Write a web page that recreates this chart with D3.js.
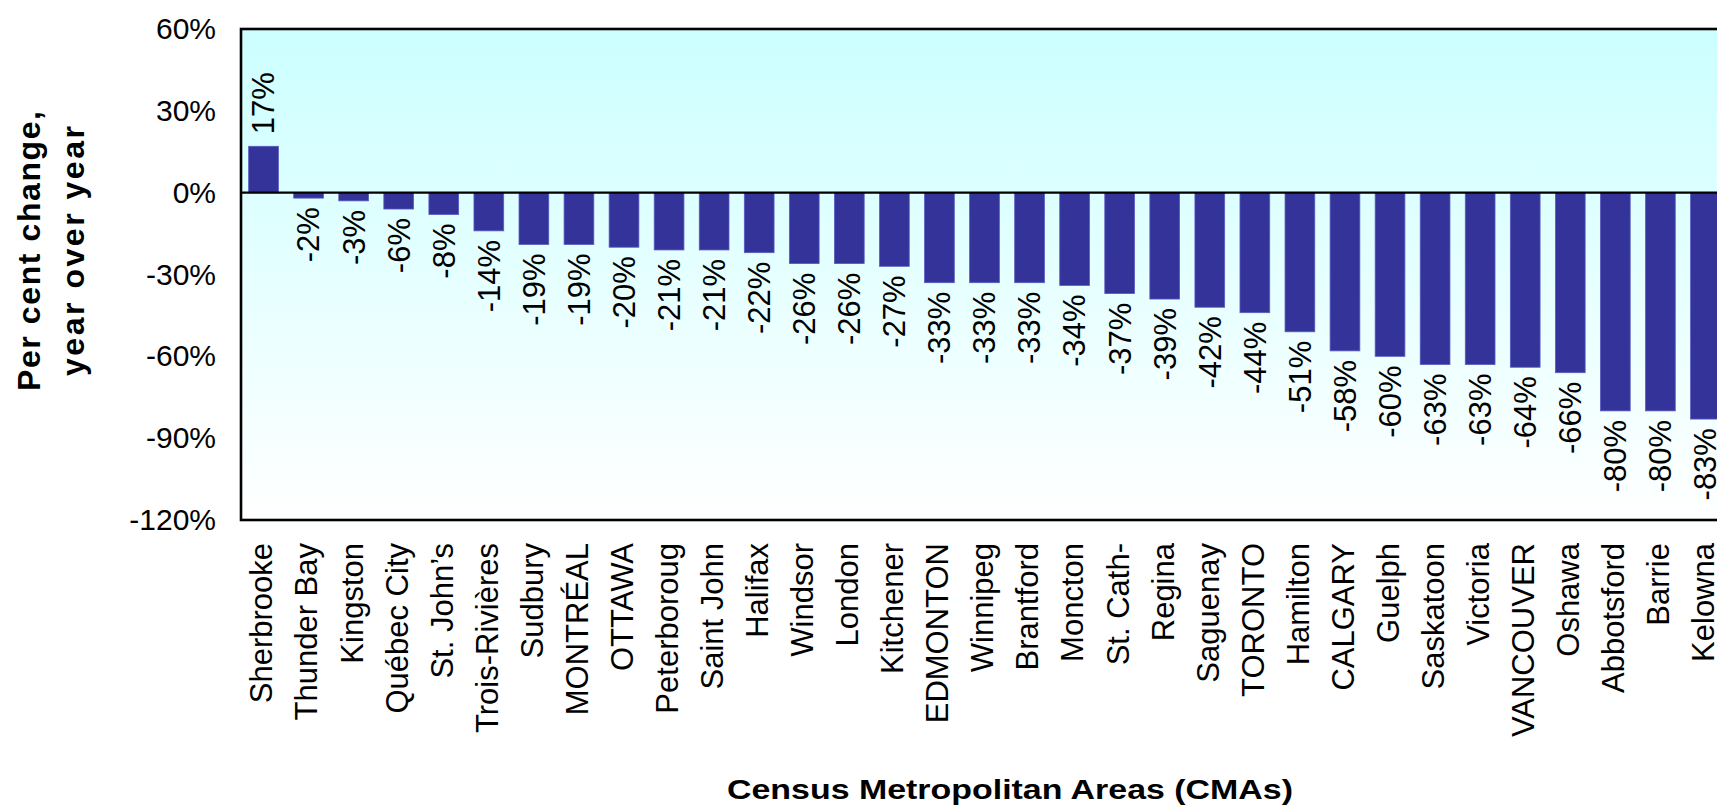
<!DOCTYPE html>
<html>
<head>
<meta charset="utf-8">
<script src="https://cdn.jsdelivr.net/npm/d3@7"></script>
<style>
  html, body { margin: 0; padding: 0; background: #ffffff; }
  svg { display: block; font-family: "Liberation Sans", Arial, sans-serif; }
</style>
</head>
<body>
<svg id="chart" width="1717" height="806"></svg>
<script>
const categories = ["Sherbrooke", "Thunder Bay", "Kingston", "Québec City", "St. John’s", "Trois-Rivières",
  "Sudbury", "MONTRÉAL", "OTTAWA", "Peterboroug", "Saint John", "Halifax", "Windsor", "London",
  "Kitchener", "EDMONTON", "Winnipeg", "Brantford", "Moncton", "St. Cath-", "Regina", "Saguenay",
  "TORONTO", "Hamilton", "CALGARY", "Guelph", "Saskatoon", "Victoria", "VANCOUVER", "Oshawa",
  "Abbotsford", "Barrie", "Kelowna"];
const values = [17, -2, -3, -6, -8, -14, -19, -19, -20, -21, -21, -22, -26, -26, -27, -33, -33, -33,
  -34, -37, -39, -42, -44, -51, -58, -60, -63, -63, -64, -66, -80, -80, -83];
const yTicks = [60, 30, 0, -30, -60, -90, -120];
const yTitleLines = ["Per cent change,", "year over year"];
const xTitle = "Census Metropolitan Areas (CMAs)";

const svg = d3.select("#chart");
const plot = { left: 241, top: 29, bottom: 520, right: 241 + 33 * 45.06 };

const x = d3.scaleBand().domain(categories).range([plot.left, plot.right])
  .paddingInner(0.34).paddingOuter(0.17);
const y = d3.scaleLinear().domain([-120, 60]).range([plot.bottom, plot.top]);

// background gradient
const defs = svg.append("defs");
const grad = defs.append("linearGradient").attr("id", "bg").attr("x1", 0).attr("y1", 0).attr("x2", 0).attr("y2", 1);
grad.append("stop").attr("offset", "0%").attr("stop-color", "#CCFFFF");
grad.append("stop").attr("offset", "100%").attr("stop-color", "#FFFFFF");

svg.append("rect")
  .attr("x", plot.left).attr("y", plot.top)
  .attr("width", plot.right - plot.left).attr("height", plot.bottom - plot.top)
  .attr("fill", "url(#bg)");

// bars
svg.append("g").selectAll("rect").data(values).join("rect")
  .attr("x", (d, i) => x(categories[i]))
  .attr("width", x.bandwidth())
  .attr("y", d => y(Math.max(0, d)))
  .attr("height", d => Math.abs(y(d) - y(0)))
  .attr("fill", "#333399")
  .attr("stroke", "#5a5ac0")
  .attr("stroke-width", 0.8);

// zero line
svg.append("line")
  .attr("x1", plot.left).attr("x2", plot.right)
  .attr("y1", y(0)).attr("y2", y(0))
  .attr("stroke", "#000").attr("stroke-width", 2.4);

// frame
svg.append("rect")
  .attr("x", plot.left).attr("y", plot.top)
  .attr("width", plot.right - plot.left).attr("height", plot.bottom - plot.top)
  .attr("fill", "none").attr("stroke", "#000").attr("stroke-width", 2.6);

// y axis labels
const yAxis = d3.axisLeft(y).tickValues(yTicks).tickFormat(d => d + "%").tickSize(0).tickPadding(25);
const gy = svg.append("g").attr("transform", `translate(${plot.left},0)`).call(yAxis);
gy.select(".domain").remove();
gy.selectAll("text").attr("font-size", 30).attr("fill", "#000")
  .attr("font-family", "'Liberation Sans', Arial, sans-serif");

// value labels
svg.append("g").selectAll("text").data(values).join("text")
  .attr("transform", (d, i) => {
    const cx = x(categories[i]) + x.bandwidth() / 2;
    const cy = d >= 0 ? y(d) - 12 : y(d) + 9;
    return `translate(${cx},${cy}) rotate(-90)`;
  })
  .attr("text-anchor", d => d >= 0 ? "start" : "end")
  .attr("dy", "0.35em")
  .attr("font-size", 31)
  .attr("fill", "#000")
  .text(d => d + "%");

// category labels
const xAxis = d3.axisBottom(x).tickSize(0).tickPadding(0);
const gx = svg.append("g").attr("transform", `translate(0,${plot.bottom})`).call(xAxis);
gx.select(".domain").remove();
gx.selectAll("text")
  .attr("font-size", 31).attr("fill", "#000")
  .attr("font-family", "'Liberation Sans', Arial, sans-serif")
  .attr("text-anchor", "end")
  .attr("y", 0).attr("x", 0).attr("dy", "0.35em")
  .attr("transform", "translate(-2,23) rotate(-90)");

// y title
const yTitleLengths = [280, 250];
const yT = svg.append("g").attr("transform", "translate(0,251) rotate(-90)");
yT.selectAll("text").data(yTitleLines).join("text")
  .attr("x", 0).attr("y", (d, i) => 40 + i * 43.5)
  .attr("text-anchor", "middle")
  .attr("font-size", 32).attr("font-weight", "bold").attr("fill", "#000")
  .attr("textLength", (d, i) => yTitleLengths[i]).attr("lengthAdjust", "spacing")
  .text(d => d);

// x title
svg.append("text")
  .attr("x", 1010).attr("y", 799)
  .attr("text-anchor", "middle")
  .attr("font-size", 28).attr("font-weight", "bold").attr("fill", "#000")
  .attr("textLength", 566).attr("lengthAdjust", "spacingAndGlyphs")
  .text(xTitle);
</script>
</body>
</html>
